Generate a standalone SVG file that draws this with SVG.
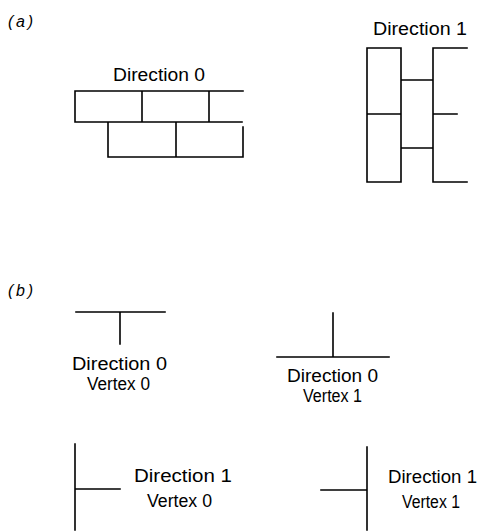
<svg xmlns="http://www.w3.org/2000/svg" width="481" height="531" viewBox="0 0 481 531">
<style>
.ln{stroke:#000;stroke-width:1.6;fill:none;stroke-linecap:square}
.t{font-family:"Liberation Sans",Arial,sans-serif;font-size:18px;fill:#000}
.lab{font-family:"Liberation Sans",Arial,sans-serif;font-size:16px;font-style:italic;fill:#000}
</style>
<rect width="481" height="531" fill="#fff"/>
<text class="lab" x="8" y="27" textLength="25" lengthAdjust="spacing">(a)</text>
<text class="lab" x="8" y="296" textLength="25" lengthAdjust="spacing">(b)</text>
<g id="direction0">
<text class="t" x="113" y="81" textLength="92" lengthAdjust="spacingAndGlyphs">Direction 0</text>
<path class="ln" d="M243,91 H75 V122 H242 M142,91 V122 M209,91 V122 M108,122 V157 H243 V127 M176,122 V157"/>
</g>
<g id="direction1">
<text class="t" x="373" y="35" textLength="94" lengthAdjust="spacingAndGlyphs">Direction 1</text>
<path class="ln" d="M367,48 H401 V182 H367 Z M367,114 H401 M401,80 H433 M401,148 H433 M467,48 H433 V182 H467 M433,114 H457"/>
</g>
<g id="d0v0">
<path class="ln" d="M76,312 H165 M120,312 V344"/>
<text class="t" x="72" y="370" textLength="95" lengthAdjust="spacingAndGlyphs">Direction 0</text>
<text class="t" x="87" y="390" textLength="63" lengthAdjust="spacingAndGlyphs">Vertex 0</text>
</g>
<g id="d0v1">
<path class="ln" d="M277,357 H389 M333,313 V357"/>
<text class="t" x="287" y="382" textLength="91" lengthAdjust="spacingAndGlyphs">Direction 0</text>
<text class="t" x="303" y="402" textLength="59" lengthAdjust="spacingAndGlyphs">Vertex 1</text>
</g>
<g id="d1v0">
<path class="ln" d="M75,444 V530 M75,489 H120"/>
<text class="t" x="134" y="482" textLength="98" lengthAdjust="spacingAndGlyphs">Direction  1</text>
<text class="t" x="147" y="507" textLength="65" lengthAdjust="spacingAndGlyphs">Vertex 0</text>
</g>
<g id="d1v1">
<path class="ln" d="M367,447 V530 M321,490 H367"/>
<text class="t" x="388" y="483" textLength="89" lengthAdjust="spacingAndGlyphs">Direction 1</text>
<text class="t" x="402" y="508" textLength="58" lengthAdjust="spacingAndGlyphs">Vertex 1</text>
</g>
<g id="connectors"></g>
</svg>
